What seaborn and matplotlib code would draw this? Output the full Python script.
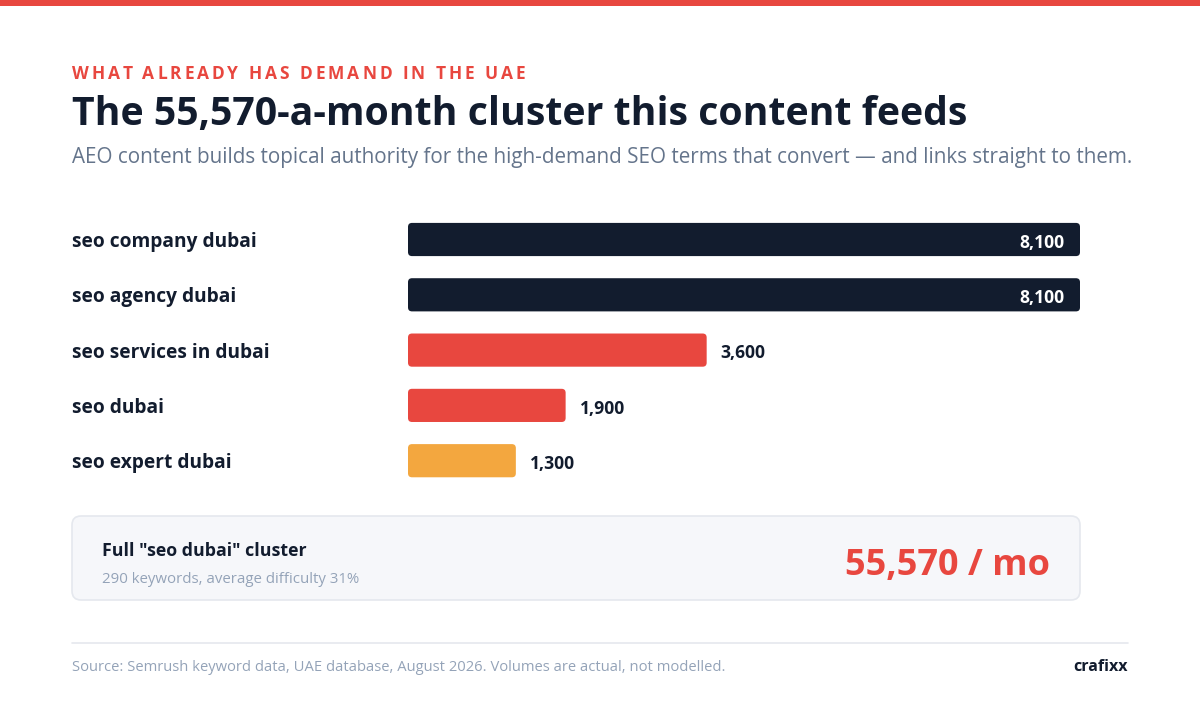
import matplotlib
matplotlib.use("Agg")
import matplotlib.pyplot as plt
from matplotlib.patches import FancyBboxPatch, Rectangle
import seaborn as sns
import pandas as pd

# data
keywords = ["seo company dubai", "seo agency dubai", "seo services in dubai",
            "seo dubai", "seo expert dubai"]
volumes = [8100, 8100, 3600, 1900, 1300]
tiers = ["top", "top", "mid", "mid", "low"]
cluster_total = 55570
cluster_keywords = 290
cluster_difficulty = 31

DARK = "#121c2e"
RED = "#e8473f"
ORANGE = "#f3a73f"
GREY = "#64748b"
LIGHT_GREY = "#94a3b8"
tier_colors = {"top": DARK, "mid": RED, "low": ORANGE}

sns.set_theme(style="white")
plt.rcParams["font.family"] = ["Open Sans", "DejaVu Sans"]

W, H = 1200, 720
fig = plt.figure(figsize=(12, 7.2), dpi=100)
fig.patch.set_facecolor("white")

# overlay axes in pixel coordinates (top-left origin)
ov = fig.add_axes([0, 0, 1, 1], zorder=0)
ov.set_xlim(0, W)
ov.set_ylim(H, 0)
ov.axis("off")
ov.patch.set_alpha(0)

ov.add_patch(Rectangle((0, 0), W, 6, color=RED, lw=0))


def spaced_text(x, y, s, spacing, **kw):
    """draw text with letter spacing (pixels)"""
    r = fig.canvas.get_renderer()
    for i, ch in enumerate(s):
        if i == 0:
            off = 0
        else:
            t = ov.text(0, 0, s[:i] + "|", **kw)
            t2 = ov.text(0, 0, "|", **kw)
            off = t.get_window_extent(r).width - t2.get_window_extent(r).width
            t.remove()
            t2.remove()
        ov.text(x + off + i * spacing, y, ch, **kw)


spaced_text(72, 79, "WHAT ALREADY HAS DEMAND IN THE UAE", 2.95,
            color=RED, fontsize=12.5, fontweight="bold", va="baseline")
ov.text(72, 125, "The 55,570-a-month cluster this content feeds",
        color=DARK, fontsize=28.3, fontweight="bold", va="baseline")
ov.text(72, 163, "AEO content builds topical authority for the high-demand SEO terms "
        "that convert \u2014 and links straight to them.",
        color=GREY, fontsize=14.9, va="baseline")

# summary box
ov.add_patch(FancyBboxPatch((72, 516), 1008, 84,
                            boxstyle="round,pad=0,rounding_size=9",
                            fc="#f6f7fa", ec="#e5e8ee", lw=1.2))
ov.text(102, 556, 'Full "seo dubai" cluster', color=DARK, fontsize=12.8,
        fontweight="bold", va="baseline")
ov.text(102, 583, f"{cluster_keywords} keywords, average difficulty {cluster_difficulty}%",
        color=LIGHT_GREY, fontsize=10.8, va="baseline")
ov.text(1050, 575, f"{cluster_total:,} / mo", color=RED, fontsize=26,
        fontweight="bold", va="baseline", ha="right")

# footer
ov.plot([72, 1128], [643, 643], color="#e5e8ee", lw=1.2)
ov.text(72, 671, "Source: Semrush keyword data, UAE database, August 2026. "
        "Volumes are actual, not modelled.", color=LIGHT_GREY, fontsize=10.6,
        va="baseline")
ov.text(1128, 671, "crafixx", color=DARK, fontsize=11.5, fontweight="bold",
        va="baseline", ha="right")

# bar chart
band = 55.3
top_px = 239.5 - band / 2
ax = fig.add_axes([408 / W, 1 - (top_px + 5 * band) / H, 672 / W, 5 * band / H], zorder=1)
ax.patch.set_alpha(0)

df = pd.DataFrame({"keyword": keywords, "volume": volumes, "tier": tiers})
sns.barplot(data=df, x="volume", y="keyword", hue="tier", palette=tier_colors,
            dodge=False, width=0.6, legend=False, ax=ax, saturation=1)

ax.set_xlim(0, max(volumes))
ax.set_ylim(4.5, -0.5)
for s in ax.spines.values():
    s.set_visible(False)
ax.set_xticks([])
ax.set_xlabel("")
ax.set_ylabel("")
ax.tick_params(axis="y", length=0, pad=(408 - 72) * 0.72)
for lab in ax.get_yticklabels():
    lab.set_ha("left")
    lab.set_fontweight("bold")
    lab.set_fontsize(13.8)
    lab.set_color(DARK)

# rounded corners on bars
px_x = max(volumes) / 672
px_y = 1 / band
for p in list(ax.patches):
    x0, y0, w, h = p.get_x(), p.get_y(), p.get_width(), p.get_height()
    if w <= 0:
        continue
    fc = p.get_facecolor()
    p.remove()
    ax.add_patch(FancyBboxPatch((x0, y0), w, h,
                                boxstyle=f"round,pad=0,rounding_size={4 * px_x}",
                                mutation_aspect=px_y / px_x, fc=fc, ec="none"))

for i, v in enumerate(volumes):
    if v == max(volumes):
        ax.annotate(f"{v:,}", (v, i), xytext=(-11, -1), textcoords="offset points",
                    ha="right", va="center_baseline", color="white", fontsize=12.6,
                    fontweight="bold")
    else:
        ax.annotate(f"{v:,}", (v, i), xytext=(10, -1), textcoords="offset points",
                    ha="left", va="center_baseline", color=DARK, fontsize=12.6,
                    fontweight="bold")

fig.savefig("out.png", dpi=100, facecolor="white")
